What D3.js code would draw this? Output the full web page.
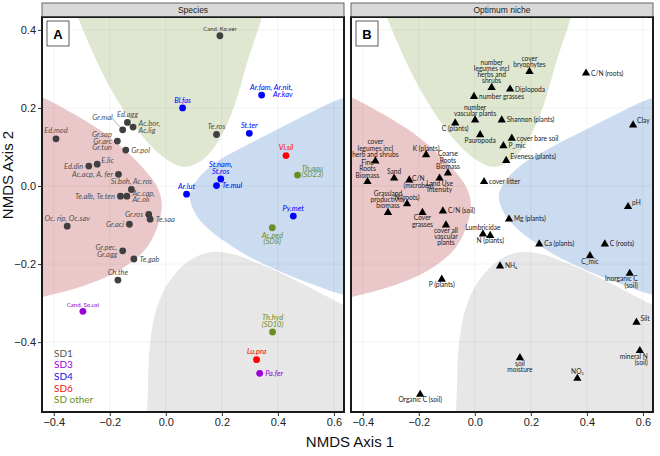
<!DOCTYPE html>
<html><head><meta charset="utf-8">
<script src="https://cdn.jsdelivr.net/npm/d3@7"></script>
<style>body{margin:0;background:#fff}</style>
</head><body><svg id="chart" width="660" height="456"></svg>
<script>
// ---------------- DATA ----------------
const speciesNames = ["Ed.mod","Ed.agg","Ac.bor,\nAc.lig","Gr.mal","Gr.sap\nGr.arc\nGr.tun","Gr.pol","E.lic","Ed.din","Ac.acp, A. fer","Si.boh, Ac.ros","Te.alb, Te.ten","Ac.cap,\nAc.oli","Gr.ros","Te.saa","Oc. rip, Oc.sav","Gr.aci","Gr.pec,\nGr.agg","Te.gab","Ch.the","Cand. So.usi","Cand. Ko.ver","Bl.fas","Ar.fam, Ar.nit,\nAr.kav","Te.ros","St.ter","Vi.sil","Th.aqu\n(SD23)","St.nam,\nSt.ros","Te.mul","Ar.lut","Py.met","Ac.ped\n(SD8)","Th.hyd\n(SD10)","Lu.pra","Pa.fer"];
const speciesX = [-0.392,-0.137,-0.117,-0.154,-0.173,-0.143,-0.245,-0.275,-0.169,-0.123,-0.162,-0.139,-0.061,-0.056,-0.352,-0.130,-0.154,-0.114,-0.171,-0.296,0.193,0.060,0.342,0.181,0.298,0.429,0.470,0.196,0.181,0.074,0.455,0.380,0.381,0.324,0.335];
const speciesY = [0.121,0.163,0.151,0.144,0.115,0.092,0.056,0.051,0.030,-0.009,-0.026,-0.026,-0.073,-0.085,-0.103,-0.098,-0.166,-0.187,-0.241,-0.321,0.385,0.200,0.233,0.132,0.135,0.078,0.028,0.018,0.001,-0.021,-0.077,-0.107,-0.374,-0.445,-0.480];
const speciesGroup = ["SD1","SD1","SD1","SD1","SD1","SD1","SD1","SD1","SD1","SD1","SD1","SD1","SD1","SD1","SD1","SD1","SD1","SD1","SD1","SD3","SD1","SD4","SD4","SD1","SD4","SD6","SD other","SD4","SD4","SD4","SD4","SD other","SD other","SD6","SD3"];
const speciesLabelPlace = ["t","t","r","tl","l","r","tr","l","l","t","l","r","l","r","t","l","l","r","t","t","t","t","te","t","t","t","tr","t","r","t","t","b","t","t","r"];

const nicheNames = ["number\nlegumes incl\nherbs and\nshrubs","Diplopoda","number grasses","cover\nbryophytes","C/N (roots)","number\nvascular plants","Shannon (plants)","C (plants)","Pauropoda","cover bare soil","P_mic","Clay","Eveness (plants)","cover\nlegumes incl\nherb and shrubs","K (plants)","Coarse\nRoots\nBiomass","Fine\nRoots\nBiomass","Sand","C/N\n(microbes)","Land Use\nIntensity","Grassland\nproductivity\nbiomass","N (roots)","Cover\ngrasses","C/N (soil)","cover all\nvascular\nplants","cover litter","Lumbricidae","N (plants)","Mg (plants)","NH\u2084","P (plants)","pH","Ca (plants)","C (roots)","C_mic","Inorganic C\n(soil)","Organic C (soil)","soil\nmoisture","NO\u2083","Silt","mineral N\n(soil)"];
const nicheX = [0.060,0.126,-0.003,0.195,0.397,0.001,0.096,-0.070,0.019,0.132,0.102,0.565,0.112,-0.355,-0.174,-0.096,-0.383,-0.288,-0.234,-0.126,-0.310,-0.242,-0.187,-0.114,-0.103,0.033,0.029,0.055,0.122,0.090,-0.118,0.547,0.230,0.464,0.411,0.553,-0.195,0.161,0.366,0.577,0.589];
const nicheY = [0.252,0.248,0.229,0.293,0.289,0.169,0.169,0.161,0.131,0.122,0.103,0.156,0.065,0.064,0.080,0.033,0.011,0.020,0.015,0.020,-0.068,-0.046,-0.068,-0.064,-0.100,0.011,-0.123,-0.127,-0.085,-0.205,-0.239,-0.053,-0.149,-0.149,-0.179,-0.224,-0.534,-0.440,-0.493,-0.349,-0.422];
const nicheLabelPlace = ["t","r","r","t","r","t","r","b","b","r","r","tr","tr","t","t","t","t","t","rc","b","t","t","b","r","b","r","t","b","r","r","b","tr","r","r","b","be","b","b","t","tr","be"];

const xTicks = [-0.4,-0.2,0.0,0.2,0.4,0.6];
const yTicks = [-0.4,-0.2,0.0,0.2,0.4];
const legendGroups = ["SD1","SD3","SD4","SD6","SD other"];
const panelTitles = ["Species","Optimum niche"];
const panelLetters = ["A","B"];

// background niche regions (outline points, data units)
const regionGreen = [[0.014,0.75],[-0.379,0.579],[-0.314,0.433],[-0.2,0.254],[-0.093,0.136],[-0.004,0.072],[0.068,0.049],[0.139,0.072],[0.2,0.131],[0.246,0.208],[0.293,0.323],[0.343,0.433],[0.389,0.579]];
const regionPink = [[-0.807,0.323],[-0.443,0.228],[-0.354,0.195],[-0.236,0.144],[-0.146,0.092],[-0.075,0.041],[-0.029,-0.005],[-0.014,-0.049],[-0.032,-0.108],[-0.075,-0.164],[-0.164,-0.215],[-0.307,-0.259],[-0.443,-0.285],[-0.807,-0.344],[-1.129,-0.036]];
const regionBlue = [[0.636,0.226],[0.514,0.187],[0.396,0.144],[0.275,0.1],[0.175,0.059],[0.111,0.015],[0.086,-0.023],[0.104,-0.069],[0.157,-0.113],[0.275,-0.172],[0.396,-0.215],[0.514,-0.249],[0.636,-0.279],[0.907,-0.318],[1.05,-0.036],[0.907,0.259]];
const regionGray = [[-0.093,-0.703],[-0.068,-0.579],[-0.057,-0.408],[-0.029,-0.305],[0.021,-0.236],[0.093,-0.187],[0.164,-0.169],[0.236,-0.174],[0.336,-0.2],[0.454,-0.238],[0.636,-0.305],[0.836,-0.369],[0.907,-0.703]];

// ---------------- STYLE ----------------
const groupColor = {"SD1":"#3f3f3f","SD3":"#9b00d9","SD4":"#0000ff","SD6":"#ff0000","SD other":"#6b8e23"};
const labelColor = {"SD1":"#505050","SD3":"#9b00d9","SD4":"#0000ff","SD6":"#ff0000","SD other":"#6b8e23"};
const legendColor = {"SD1":"#555555","SD3":"#9b00d9","SD4":"#1010ee","SD6":"#ee1111","SD other":"#6b8e23"};
const regionFill = [["#dfe7d1",regionGreen],["#eac8ca",regionPink],["#cbdbf0",regionBlue],["#e7e7e7",regionGray]];

const svg = d3.select("#chart");
const pTop = 17, pBottom = 412;
const panelRanges = [[42,344],[351,653]];
const xDomain = [-0.442,0.636], yDomain = [-0.579,0.433];
const y = d3.scaleLinear().domain(yDomain).range([pBottom, pTop]);
const fmt = v => (v<0?"\u2212":"") + Math.abs(v).toFixed(1);

function placeLabel(g, px, py, text, code, o){
  const lines = text.split("\n"), n = lines.length, lh = o.lh;
  let anchor="middle", x0=px, yc0;
  switch(code){
    case "t": yc0 = py - o.gt - (n-1)*lh; break;
    case "b": yc0 = py + o.gb; break;
    case "r": anchor="start"; x0=px+o.gr; yc0 = py - (n-1)*lh/2; break;
    case "l": anchor="end"; x0=px-o.gr; yc0 = py - (n-1)*lh/2; break;
    case "tr": anchor="start"; x0=px+4; yc0 = py - 4 - (n-1)*lh/2; break;
    case "te": anchor="end"; x0=px+31; yc0 = py - 1 - (n-1)*lh; break;
    case "be": anchor="end"; x0=px+8; yc0 = py + o.gb; break;
    case "rc": anchor="middle"; x0=px+9; yc0 = py - 1; break;
    case "tl": anchor="end"; x0=px-10; yc0 = py - 12 - (n-1)*lh; break;
  }
  const t = g.append("text").attr("text-anchor",anchor)
    .attr("font-family",o.font).attr("font-size",o.size)
    .attr("font-style",o.style).attr("fill",o.color);
  lines.forEach((ln,i)=> t.append("tspan").attr("x",x0).attr("y",yc0+i*lh).attr("dy","0.35em").text(ln));
  if(code==="tl"){
    g.append("line").attr("x1",px-10).attr("y1",py-11).attr("x2",px-2).attr("y2",py-2)
      .attr("stroke","#808080").attr("stroke-width",0.6);
  }
}

panelRanges.forEach((rng,pi)=>{
  const x = d3.scaleLinear().domain(xDomain).range(rng);
  const g = svg.append("g");
  const clipId = "clip"+pi;
  svg.append("clipPath").attr("id",clipId).append("rect")
    .attr("x",rng[0]).attr("y",pTop).attr("width",rng[1]-rng[0]).attr("height",pBottom-pTop);
  const bg = g.append("g").attr("clip-path",`url(#${clipId})`);
  bg.append("rect").attr("x",rng[0]).attr("y",pTop).attr("width",rng[1]-rng[0]).attr("height",pBottom-pTop).attr("fill","#fff");
  const line = d3.line().x(d=>x(d[0])).y(d=>y(d[1])).curve(d3.curveCatmullRomClosed.alpha(0.5));
  regionFill.forEach(([c,pts])=> bg.append("path").attr("d",line(pts)).attr("fill",c));
  // grid
  xTicks.forEach(v=> bg.append("line").attr("x1",x(v)).attr("x2",x(v)).attr("y1",pTop).attr("y2",pBottom)
      .attr("stroke","rgba(0,0,0,0.07)").attr("stroke-width",0.7));
  yTicks.forEach(v=> bg.append("line").attr("x1",rng[0]).attr("x2",rng[1]).attr("y1",y(v)).attr("y2",y(v))
      .attr("stroke","rgba(0,0,0,0.07)").attr("stroke-width",0.7));

  // x axis
  const xa = g.append("g").attr("transform",`translate(0,${pBottom})`)
    .call(d3.axisBottom(x).tickValues(xTicks).tickSize(4).tickPadding(2).tickFormat(fmt));
  xa.select(".domain").remove();
  xa.selectAll("line").attr("stroke","#333").attr("stroke-width",1);
  xa.selectAll("text").attr("font-family","Liberation Sans, Arial, sans-serif").attr("font-size",11).attr("fill","#222");
  if(pi===0){
    const ya = g.append("g").attr("transform",`translate(${rng[0]},0)`)
      .call(d3.axisLeft(y).tickValues(yTicks).tickSize(4).tickPadding(2).tickFormat(fmt));
    ya.select(".domain").remove();
    ya.selectAll("line").attr("stroke","#333").attr("stroke-width",1);
    ya.selectAll("text").attr("font-family","Liberation Sans, Arial, sans-serif").attr("font-size",11).attr("fill","#222");
  }

  const fg = g.append("g");
  if(pi===0){
    speciesNames.forEach((nm,i)=>{
      const px = x(speciesX[i]), py = y(speciesY[i]), grp = speciesGroup[i];
      const cand = nm.startsWith("Cand.");
      placeLabel(fg, px, py, nm, speciesLabelPlace[i], {
        lh:6.4, gt: cand?6.5:8, gb:7.5, gr:5.5,
        font:"Lato, sans-serif", size: cand?6:7.5, style: cand?"normal":"italic",
        color: cand && grp==="SD1" ? "#303030" : labelColor[grp]});
    });
    speciesNames.forEach((nm,i)=>{
      fg.append("circle").attr("cx",x(speciesX[i])).attr("cy",y(speciesY[i])).attr("r",3.4)
        .attr("fill",groupColor[speciesGroup[i]]);
    });
    legendGroups.forEach((lg,i)=>{
      fg.append("text").attr("x",54).attr("y",353+i*11.7).attr("dy","0.35em")
        .attr("font-family","Lato, sans-serif").attr("font-size",10).attr("fill",legendColor[lg]).text(lg);
    });
  } else {
    nicheNames.forEach((nm,i)=>{
      placeLabel(fg, x(nicheX[i]), y(nicheY[i]), nm, nicheLabelPlace[i], {
        lh:6.3, gt:6.5, gb:5.5, gr:5,
        font:"Lato, sans-serif", size:6.6, style:"normal", color:"#1a1a1a"});
    });
    const sym = d3.symbol().type(d3.symbolTriangle).size(30);
    nicheNames.forEach((nm,i)=>{
      fg.append("path").attr("d",sym()).attr("transform",`translate(${x(nicheX[i])},${y(nicheY[i])})`).attr("fill","#000");
    });
  }

  // panel letter box
  g.append("rect").attr("x",rng[0]+5).attr("y",21).attr("width",22).attr("height",25)
    .attr("fill","#fff").attr("stroke","#333").attr("stroke-width",0.8);
  g.append("text").attr("x",rng[0]+16).attr("y",34).attr("dy","0.35em").attr("text-anchor","middle")
    .attr("font-family","Liberation Sans, Arial, sans-serif").attr("font-weight","bold").attr("font-size",13).text(panelLetters[pi]);

  // border
  g.append("rect").attr("x",rng[0]).attr("y",pTop).attr("width",rng[1]-rng[0]).attr("height",pBottom-pTop)
    .attr("fill","none").attr("stroke","#1a1a1a").attr("stroke-width",2);
  // strip
  g.append("rect").attr("x",rng[0]).attr("y",3).attr("width",rng[1]-rng[0]).attr("height",13.5)
    .attr("fill","#d9d9d9").attr("stroke","#444").attr("stroke-width",0.8);
  g.append("text").attr("x",(rng[0]+rng[1])/2).attr("y",10).attr("dy","0.35em").attr("text-anchor","middle")
    .attr("font-family","Liberation Sans, Arial, sans-serif").attr("font-size",8.5).attr("fill","#1a1a1a").text(panelTitles[pi]);
});

// axis titles
svg.append("text").attr("x",350).attr("y",447).attr("text-anchor","middle")
  .attr("font-family","Liberation Sans, Arial, sans-serif").attr("font-size",15).attr("fill","#111").text("NMDS Axis 1");
svg.append("text").attr("transform","translate(13,175) rotate(-90)").attr("text-anchor","middle")
  .attr("font-family","Liberation Sans, Arial, sans-serif").attr("font-size",15).attr("fill","#111").text("NMDS Axis 2");
</script></body></html>
